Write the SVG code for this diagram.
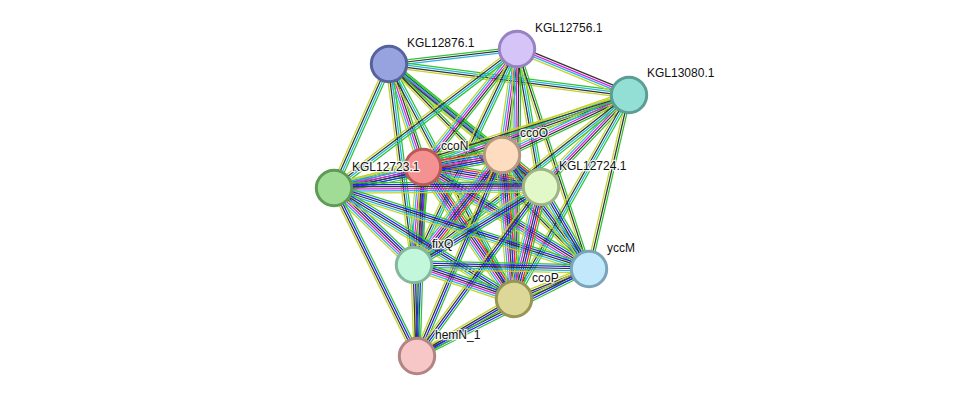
<svg xmlns="http://www.w3.org/2000/svg" xmlns:xlink="http://www.w3.org/1999/xlink" width="975" height="402" viewBox="0 0 975 402">
<style>
.b path{fill:none;stroke-width:1.25;vector-effect:non-scaling-stroke}
.g{stroke:#2fc42f}.r{stroke:#ff2020}.u{stroke:#2020ff}.k{stroke:#333}.m{stroke:#e020e0}.c{stroke:#22b4e4}.y{stroke:#c4d42c}
.node circle{stroke-width:3}
.lbl{font-family:"Liberation Sans",Arial,sans-serif;font-size:12px;fill:#111;stroke:#fff;stroke-width:2.5;stroke-opacity:0.85;paint-order:stroke;stroke-linejoin:round}
</style>
<defs>
<g id="c1" class="b" transform="scale(1,1.2)"><path class="g" d="M0-1.7H1"/><path class="k" d="M0 0H1"/><path class="c" d="M0 1.7H1"/></g>
<g id="c2" class="b" transform="scale(1,1.2)"><path class="g" d="M0-2.55H1"/><path class="c" d="M0-0.85H1"/><path class="k" d="M0 0.85H1"/><path class="y" d="M0 2.55H1"/></g>
<g id="c3" class="b" transform="scale(1,1.2)"><path class="g" d="M0-2.55H1"/><path class="u" d="M0-0.85H1"/><path class="k" d="M0 0.85H1"/><path class="y" d="M0 2.55H1"/></g>
<g id="c4" class="b" transform="scale(1,1.2)"><path class="k" d="M0-2.55H1"/><path class="m" d="M0-0.85H1"/><path class="c" d="M0 0.85H1"/><path class="y" d="M0 2.55H1"/></g>
<g id="c5" class="b" transform="scale(1,1.2)"><path class="g" d="M0-1.7H1"/><path class="k" d="M0 0H1"/><path class="y" d="M0 1.7H1"/></g>
<g id="c6" class="b" transform="scale(1,1.2)"><path class="g" d="M0-4.25H1"/><path class="u" d="M0-2.55H1"/><path class="k" d="M0-0.85H1"/><path class="m" d="M0 0.85H1"/><path class="c" d="M0 2.55H1"/><path class="y" d="M0 4.25H1"/></g>
<g id="c7" class="b" transform="scale(1,1.2)"><path class="g" d="M0-5.1H1"/><path class="r" d="M0-3.4H1"/><path class="u" d="M0-1.7H1"/><path class="k" d="M0 0H1"/><path class="m" d="M0 1.7H1"/><path class="c" d="M0 3.4H1"/><path class="y" d="M0 5.1H1"/></g>
<g id="c8" class="b" transform="scale(1,1.2)"><path class="g" d="M0-3.4H1"/><path class="k" d="M0-1.7H1"/><path class="m" d="M0 0H1"/><path class="c" d="M0 1.7H1"/><path class="y" d="M0 3.4H1"/></g>
<g id="c9" class="b" transform="scale(1,1.2)"><path class="g" d="M0-3.4H1"/><path class="u" d="M0-1.7H1"/><path class="k" d="M0 0H1"/><path class="c" d="M0 1.7H1"/><path class="y" d="M0 3.4H1"/></g>
</defs>
<rect width="975" height="402" fill="#fff"/>
<g id="edges">
<use href="#c1" transform="matrix(128,-15,0.116,0.993,389,64)"/>
<use href="#c2" transform="matrix(240,31,-0.128,0.992,389,64)"/>
<use href="#c8" transform="matrix(34,103,-0.949,0.313,389,64)"/>
<use href="#c8" transform="matrix(113,91,-0.627,0.779,389,64)"/>
<use href="#c2" transform="matrix(-55,124,-0.914,-0.405,389,64)"/>
<use href="#c2" transform="matrix(152,123,-0.629,0.777,389,64)"/>
<use href="#c2" transform="matrix(25,201,-0.993,0.123,389,64)"/>
<use href="#c2" transform="matrix(125,235,-0.883,0.470,389,64)"/>
<use href="#c5" transform="matrix(200,205,-0.716,0.698,389,64)"/>
<use href="#c4" transform="matrix(112,46,-0.380,0.925,517,49)"/>
<use href="#c8" transform="matrix(-94,118,-0.782,-0.623,517,49)"/>
<use href="#c8" transform="matrix(-15,106,-0.990,-0.140,517,49)"/>
<use href="#c2" transform="matrix(-183,139,-0.605,-0.796,517,49)"/>
<use href="#c2" transform="matrix(24,138,-0.985,0.171,517,49)"/>
<use href="#c2" transform="matrix(-103,216,-0.903,-0.430,517,49)"/>
<use href="#c8" transform="matrix(-3,250,-1,-0.012,517,49)"/>
<use href="#c5" transform="matrix(72,220,-0.950,0.311,517,49)"/>
<use href="#c8" transform="matrix(-206,72,-0.330,-0.944,629,95)"/>
<use href="#c8" transform="matrix(-127,60,-0.427,-0.904,629,95)"/>
<use href="#c5" transform="matrix(-295,93,-0.301,-0.954,629,95)"/>
<use href="#c8" transform="matrix(-88,92,-0.723,-0.691,629,95)"/>
<use href="#c2" transform="matrix(-215,170,-0.620,-0.784,629,95)"/>
<use href="#c5" transform="matrix(-40,174,-0.975,-0.224,629,95)"/>
<use href="#c2" transform="matrix(-115,204,-0.871,-0.491,629,95)"/>
<use href="#c7" transform="matrix(79,-12,0.150,0.989,423,167)"/>
<use href="#c6" transform="matrix(-89,21,-0.230,-0.974,423,167)"/>
<use href="#c7" transform="matrix(118,20,-0.167,0.986,423,167)"/>
<use href="#c7" transform="matrix(-9,98,-0.996,-0.091,423,167)"/>
<use href="#c6" transform="matrix(166,102,-0.524,0.852,423,167)"/>
<use href="#c7" transform="matrix(91,132,-0.823,0.568,423,167)"/>
<use href="#c3" transform="matrix(-6,189,-0.999,-0.032,423,167)"/>
<use href="#c6" transform="matrix(-168,33,-0.193,-0.981,502,155)"/>
<use href="#c7" transform="matrix(39,32,-0.635,0.774,502,155)"/>
<use href="#c7" transform="matrix(-88,110,-0.781,-0.625,502,155)"/>
<use href="#c9" transform="matrix(87,114,-0.795,0.607,502,155)"/>
<use href="#c7" transform="matrix(12,144,-0.997,0.083,502,155)"/>
<use href="#c3" transform="matrix(-85,201,-0.921,-0.390,502,155)"/>
<use href="#c6" transform="matrix(207,-1,0.005,1,334,188)"/>
<use href="#c6" transform="matrix(80,77,-0.694,0.721,334,188)"/>
<use href="#c9" transform="matrix(255,81,-0.303,0.953,334,188)"/>
<use href="#c9" transform="matrix(180,111,-0.525,0.851,334,188)"/>
<use href="#c3" transform="matrix(83,168,-0.896,0.443,334,188)"/>
<use href="#c9" transform="matrix(-127,78,-0.523,-0.852,541,187)"/>
<use href="#c9" transform="matrix(48,82,-0.863,0.505,541,187)"/>
<use href="#c7" transform="matrix(-27,112,-0.972,-0.234,541,187)"/>
<use href="#c3" transform="matrix(-124,169,-0.806,-0.592,541,187)"/>
<use href="#c9" transform="matrix(175,4,-0.023,1,414,265)"/>
<use href="#c6" transform="matrix(100,34,-0.322,0.947,414,265)"/>
<use href="#c3" transform="matrix(3,91,-1,0.033,414,265)"/>
<use href="#c3" transform="matrix(-75,30,-0.371,-0.928,589,269)"/>
<use href="#c3" transform="matrix(-172,87,-0.451,-0.892,589,269)"/>
<use href="#c3" transform="matrix(-97,57,-0.507,-0.862,514,299)"/>
</g>
<g id="KGL12876.1" class="node"><circle cx="389" cy="64" r="17.7" fill="#97a3de" stroke="#56629f"/><text class="lbl" x="407" y="47">KGL12876.1</text></g>
<g id="KGL12756.1" class="node"><circle cx="517" cy="49" r="17.7" fill="#d5c4f7" stroke="#9783c2"/><text class="lbl" x="535" y="32">KGL12756.1</text></g>
<g id="KGL13080.1" class="node"><circle cx="629" cy="95" r="17.7" fill="#93dfd5" stroke="#5a9e95"/><text class="lbl" x="647" y="77">KGL13080.1</text></g>
<g id="ccoN" class="node"><circle cx="423" cy="167" r="17.7" fill="#f49292" stroke="#bb5858"/><text class="lbl" x="441" y="150">ccoN</text></g>
<g id="ccoO" class="node"><circle cx="502" cy="155" r="17.7" fill="#fddcc0" stroke="#b4987f"/><text class="lbl" x="520" y="137">ccoO</text></g>
<g id="KGL12723.1" class="node"><circle cx="334" cy="188" r="17.7" fill="#a0dc96" stroke="#5e9b54"/><text class="lbl" x="352" y="171">KGL12723.1</text></g>
<g id="KGL12724.1" class="node"><circle cx="541" cy="187" r="17.7" fill="#e3f8c9" stroke="#9fb487"/><text class="lbl" x="559" y="170">KGL12724.1</text></g>
<g id="fixQ" class="node"><circle cx="414" cy="265" r="17.7" fill="#c3f7dc" stroke="#84b79b"/><text class="lbl" x="432" y="248">fixQ</text></g>
<g id="yccM" class="node"><circle cx="589" cy="269" r="17.7" fill="#c2e8fb" stroke="#7ba4bb"/><text class="lbl" x="607" y="252">yccM</text></g>
<g id="ccoP" class="node"><circle cx="514" cy="299" r="17.7" fill="#ddd898" stroke="#989654"/><text class="lbl" x="532" y="282">ccoP</text></g>
<g id="hemN_1" class="node"><circle cx="417" cy="356" r="17.7" fill="#f7c7c7" stroke="#b28484"/><text class="lbl" x="435" y="339">hemN_1</text></g>
</svg>
